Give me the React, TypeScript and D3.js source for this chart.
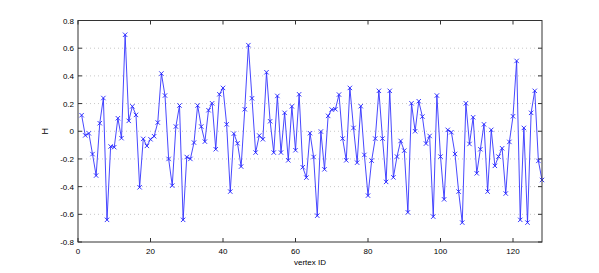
import * as d3 from "d3";
import React from "react";

// H value for each vertex, vertex IDs run 1..128
const hValues = [
  0.116, -0.03, -0.015, -0.165, -0.32, 0.058, 0.24, -0.64, -0.11, -0.115,
  0.094, -0.05, 0.697, 0.075, 0.18, 0.118, -0.405, -0.055, -0.106, -0.058,
  -0.036, 0.063, 0.417, 0.258, -0.2, -0.393, 0.034, 0.186, -0.64, -0.186,
  -0.2, -0.082, 0.186, 0.034, -0.075, 0.152, 0.202, -0.13, 0.267, 0.313,
  0.05, -0.436, -0.017, -0.087, -0.255, 0.159, 0.622, 0.238, -0.154, -0.031,
  -0.058, 0.426, 0.072, -0.154, 0.255, -0.154, 0.133, -0.21, 0.18, -0.137,
  0.267, -0.26, -0.335, -0.014, -0.186, -0.61, -0.002, -0.275, 0.111, 0.157,
  0.159, 0.265, -0.053, -0.21, 0.313, 0.024, -0.227, 0.181, -0.171, -0.465,
  -0.212, -0.053, 0.292, -0.053, -0.366, 0.292, -0.333, -0.183, -0.07, -0.14,
  -0.586, 0.202, 0.0, 0.217, 0.106, -0.089, -0.034, -0.617, 0.258, -0.183,
  -0.492, 0.01, -0.007, -0.164, -0.436, -0.66, 0.202, -0.092, 0.101, -0.304,
  -0.13, 0.05, -0.436, 0.01, -0.25, -0.183, -0.123, -0.45, -0.077, 0.108,
  0.508, -0.64, 0.024, -0.66, 0.133, 0.292, -0.214, -0.352,
];
const xTicks = [0, 20, 40, 60, 80, 100, 120];
const yTicks = [-0.8, -0.6, -0.4, -0.2, 0, 0.2, 0.4, 0.6, 0.8];

const App = () => {
  const svgWidth = 599;
  const svgHeight = 273;
  const margin = { top: 20.5, right: 57, bottom: 31, left: 78 };
  const w = svgWidth - margin.left - margin.right;
  const h = svgHeight - margin.top - margin.bottom;

  const x = d3.scaleLinear().domain([0, 128]).range([0, w]);
  const y = d3.scaleLinear().domain([-0.8, 0.8]).range([h, 0]);

  const points = hValues.map((v, i) => ({ id: i + 1, v }));
  const line = d3
    .line<{ id: number; v: number }>()
    .x((d) => x(d.id))
    .y((d) => y(d.v));

  const fmt = (t: number) => (t === 0 ? "0" : t.toFixed(1));
  const font = "'Liberation Sans', Arial, sans-serif";
  const m = 2.2; // half size of the x markers

  return (
    <svg
      width={svgWidth}
      height={svgHeight}
      style={{ position: "absolute", left: 0, top: 0, background: "#fff" }}
    >
      <g transform={`translate(${margin.left},${margin.top})`}>
        {/* dotted grid */}
        {yTicks.slice(1, -1).map((t) => (
          <line
            key={"g" + t}
            x1={0}
            x2={w}
            y1={y(t)}
            y2={y(t)}
            stroke="#c8c8c8"
            strokeWidth={1}
            strokeDasharray="1,3"
          />
        ))}

        <path d={line(points) || ""} fill="none" stroke="#3333ff" strokeWidth={0.9} />
        {points.map((d) => (
          <path
            key={d.id}
            d={`M${x(d.id) - m},${y(d.v) - m}L${x(d.id) + m},${y(d.v) + m}M${x(d.id) - m},${y(d.v) + m}L${x(d.id) + m},${y(d.v) - m}`}
            stroke="#2222ff"
            strokeWidth={0.9}
          />
        ))}

        {/* box */}
        <rect x={0} y={0} width={w} height={h} fill="none" stroke="#333" strokeWidth={1} />

        {/* ticks */}
        {xTicks.map((t) => (
          <g key={"x" + t}>
            <line x1={x(t)} x2={x(t)} y1={h} y2={h - 4} stroke="#333" />
            <line x1={x(t)} x2={x(t)} y1={0} y2={4} stroke="#333" />
            <text x={x(t)} y={h + 12} fontSize={8} fontFamily={font} textAnchor="middle" fill="#000">
              {t}
            </text>
          </g>
        ))}
        {yTicks.map((t) => (
          <g key={"y" + t}>
            <line x1={0} x2={4} y1={y(t)} y2={y(t)} stroke="#333" />
            <line x1={w} x2={w - 4} y1={y(t)} y2={y(t)} stroke="#333" />
            <text x={-4} y={y(t) + 3} fontSize={8} fontFamily={font} textAnchor="end" fill="#000">
              {fmt(t)}
            </text>
          </g>
        ))}

        <text x={w / 2} y={h + 23} fontSize={8} fontFamily={font} textAnchor="middle" fill="#000">
          vertex ID
        </text>
        <text
          transform={`translate(${-30},${h / 2}) rotate(-90)`}
          fontSize={9}
          fontFamily={font}
          textAnchor="middle"
          fill="#000"
        >
          H
        </text>
      </g>
    </svg>
  );
};

export default App;
